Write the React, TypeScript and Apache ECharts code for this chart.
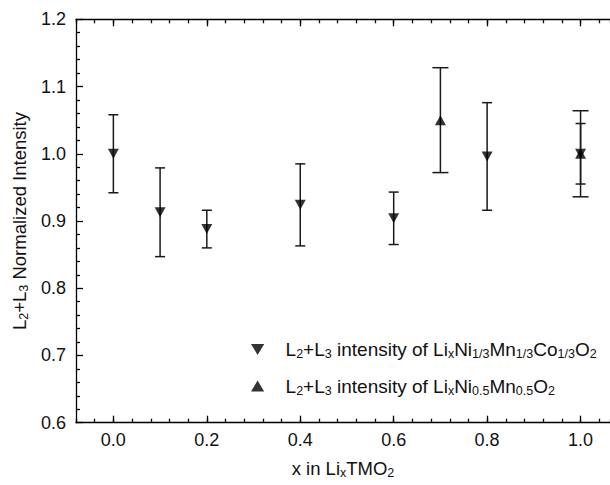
import React, { useEffect, useRef } from "react";
import * as echarts from "echarts";

// x in LixTMO2, LixNi1/3Mn1/3Co1/3O2 (down triangles)
const xNMC = [0.0, 0.1, 0.2, 0.4, 0.6, 0.8, 1.0];
const yNMC = [1.0, 0.913, 0.888, 0.924, 0.904, 0.996, 1.0];
const errNMC = [0.058, 0.066, 0.028, 0.061, 0.039, 0.08, 0.045];

// LixNi0.5Mn0.5O2 (up triangles)
const xNM = [0.7, 1.0];
const yNM = [1.05, 1.0];
const errNM = [0.078, 0.064];

const xMajorTicks = [0.0, 0.2, 0.4, 0.6, 0.8, 1.0];

const FONT = "'Liberation Sans', Arial, sans-serif";

const nameNMC = "{n|L}{s|2}{n|+L}{s|3}{n| intensity of Li}{s|x}{n|Ni}{s|1/3}{n|Mn}{s|1/3}{n|Co}{s|1/3}{n|O}{s|2}";
const nameNM = "{n|L}{s|2}{n|+L}{s|3}{n| intensity of Li}{s|x}{n|Ni}{s|0.5}{n|Mn}{s|0.5}{n|O}{s|2}";

const rich = {
  n: { fontSize: 18.5, lineHeight: 22, verticalAlign: "middle", color: "#111", fontFamily: FONT },
  s: { fontSize: 12.5, lineHeight: 12, verticalAlign: "bottom", color: "#111", fontFamily: FONT },
};
const richLegend = {
  n: { fontSize: 19, lineHeight: 22, verticalAlign: "middle", color: "#111", fontFamily: FONT },
  s: { fontSize: 12.5, lineHeight: 12, verticalAlign: "bottom", color: "#111", fontFamily: FONT },
};

function errorSeries(name: string, xs: number[], ys: number[], es: number[], capHalf: number) {
  return {
    type: "custom",
    name,
    xAxisIndex: 0,
    yAxisIndex: 0,
    z: 2,
    data: xs.map((x, i) => [x, ys[i] - es[i], ys[i] + es[i]]),
    renderItem: (params: any, api: any) => {
      const lo = api.coord([api.value(0), api.value(1)]);
      const hi = api.coord([api.value(0), api.value(2)]);
      const style = { stroke: "#1a1a1a", lineWidth: 1.5 };
      return {
        type: "group",
        children: [
          { type: "line", shape: { x1: lo[0], y1: lo[1], x2: hi[0], y2: hi[1] }, style },
          { type: "line", shape: { x1: lo[0] - capHalf, y1: lo[1], x2: lo[0] + capHalf, y2: lo[1] }, style },
          { type: "line", shape: { x1: hi[0] - capHalf, y1: hi[1], x2: hi[0] + capHalf, y2: hi[1] }, style },
        ],
      };
    },
  };
}

export default function App() {
  const ref = useRef<HTMLDivElement>(null);
  useEffect(() => {
    if (!ref.current) return;
    const chart = echarts.init(ref.current, null, { renderer: "svg" });
    const axisLine = { show: true, onZero: false, lineStyle: { color: "#000", width: 1.3 } };
    const baseX = { type: "value", min: -0.08, max: 1.063, splitLine: { show: false } };
    chart.setOption({
      animation: false,
      backgroundColor: "#fff",
      textStyle: { fontFamily: FONT },
      grid: { left: 76, top: 19.3, width: 535, height: 403.4, containLabel: false },
      legend: {
        orient: "vertical",
        left: 246,
        top: 335,
        itemWidth: 46,
        itemHeight: 11,
        itemGap: 16,
        symbolKeepAspect: true,
        data: [
          { name: "NMC", icon: "path://M0,0 L12,0 L6,10 Z" },
          { name: "NM", icon: "path://M6,0 L12,10 L0,10 Z" },
        ],
        formatter: (n: string) => (n === "NMC" ? nameNMC : nameNM),
        textStyle: { rich: richLegend },
      },
      xAxis: [
        {
          ...baseX,
          position: "bottom",
          axisLine,
          axisTick: { show: true, inside: true, length: 7, customValues: xMajorTicks, lineStyle: { color: "#000", width: 1.3 } },
          axisLabel: {
            customValues: xMajorTicks,
            formatter: (v: number) => v.toFixed(1),
            fontSize: 18,
            color: "#111",
            margin: 8,
            fontFamily: FONT,
          },
          name: "{n|x in Li}{s|x}{n|TMO}{s|2}",
          nameLocation: "middle",
          nameGap: 35,
          nameTextStyle: { rich },
        },
        {
          ...baseX,
          position: "bottom",
          interval: 0.04,
          axisLine: { show: false, onZero: false },
          axisTick: { show: true, inside: true, length: 4, lineStyle: { color: "#000", width: 1.3 } },
          axisLabel: { show: false },
        },
        {
          ...baseX,
          position: "top",
          axisLine,
          axisTick: { show: true, inside: true, length: 7, customValues: xMajorTicks, lineStyle: { color: "#000", width: 1.3 } },
          axisLabel: { show: false },
        },
        {
          ...baseX,
          position: "top",
          interval: 0.04,
          axisLine: { show: false, onZero: false },
          axisTick: { show: true, inside: true, length: 4, lineStyle: { color: "#000", width: 1.3 } },
          axisLabel: { show: false },
        },
      ],
      yAxis: [
        {
          type: "value",
          min: 0.6,
          max: 1.2,
          interval: 0.1,
          position: "left",
          axisLine,
          axisTick: { show: true, inside: true, length: 7, lineStyle: { color: "#000", width: 1.3 } },
          minorTick: { show: true, splitNumber: 5, length: 4, lineStyle: { color: "#000", width: 1.3 } },
          splitLine: { show: false },
          axisLabel: { formatter: (v: number) => v.toFixed(1), fontSize: 18, color: "#111", margin: 10, fontFamily: FONT },
          name: "{n|L}{s|2}{n|+L}{s|3}{n| Normalized Intensity}",
          nameLocation: "middle",
          nameGap: 44,
          nameRotate: 90,
          nameTextStyle: { rich },
        },
      ],
      series: [
        errorSeries("errNMC", xNMC, yNMC, errNMC, 5),
        errorSeries("errNM", xNM, yNM, errNM, 8),
        {
          type: "scatter",
          name: "NMC",
          z: 3,
          symbol: "triangle",
          symbolRotate: 180,
          symbolSize: [11, 10],
          itemStyle: { color: "#000" },
          data: xNMC.map((x, i) => [x, yNMC[i]]),
        },
        {
          type: "scatter",
          name: "NM",
          z: 3,
          symbol: "triangle",
          symbolSize: [11, 10],
          itemStyle: { color: "#000" },
          data: xNM.map((x, i) => [x, yNM[i]]),
        },
      ],
    });
    return () => chart.dispose();
  }, []);
  return <div ref={ref} style={{ position: "fixed", left: 0, top: 0, width: 610, height: 485 }} />;
}
